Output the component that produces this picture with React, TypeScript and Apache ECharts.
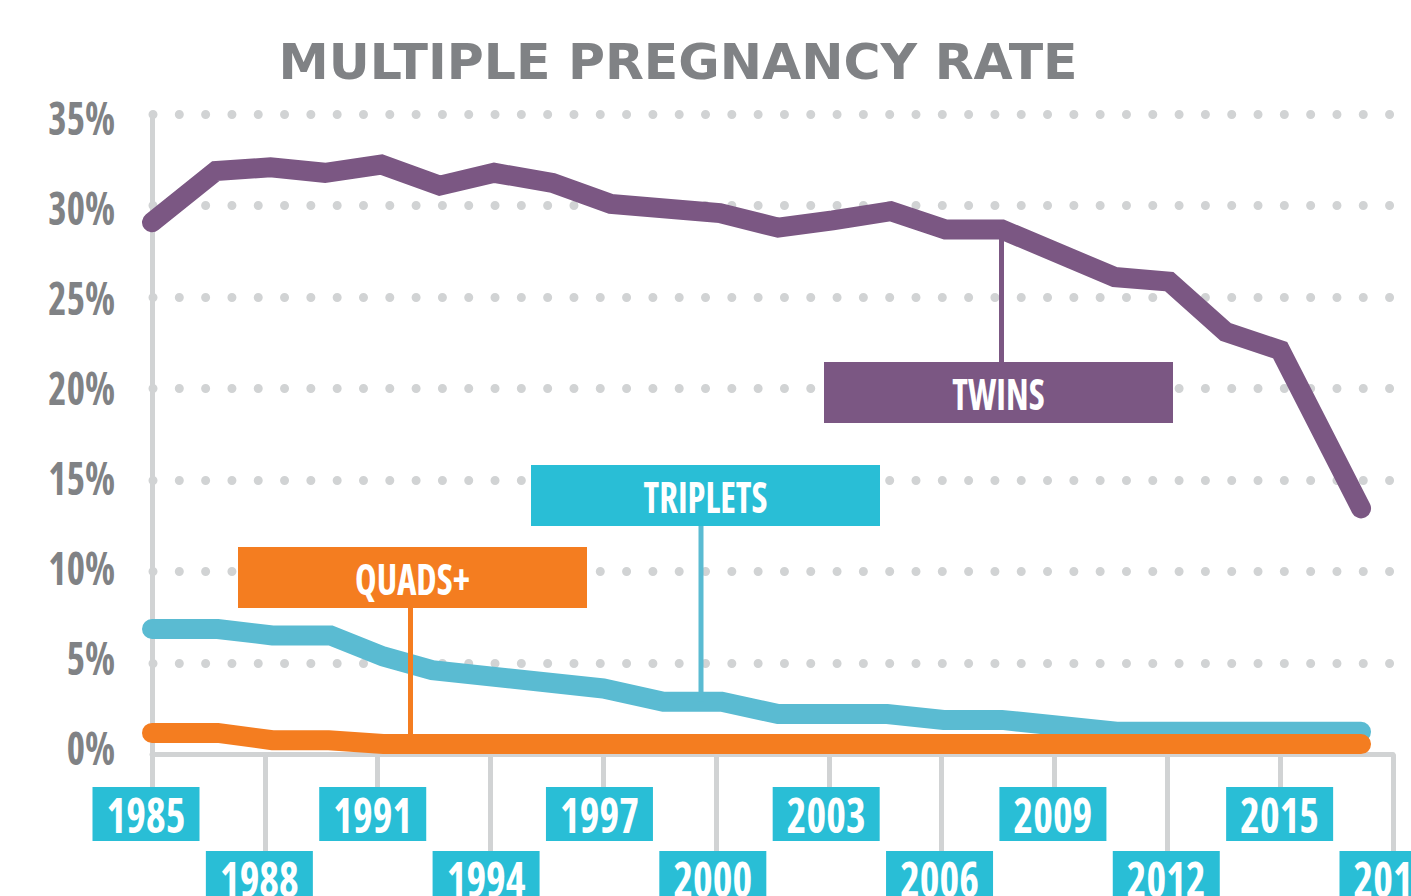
import React, { useEffect, useRef } from "react";
import * as echarts from "echarts";

const TITLE = "MULTIPLE PREGNANCY RATE";

// x positions in years, y values in percent
const twinsYears = [1985.0, 1986.7, 1988.15, 1989.6, 1991.1, 1992.65, 1994.1, 1995.65, 1997.2, 2000.1, 2001.65, 2003.1, 2004.65, 2006.1, 2007.6, 2010.6, 2012.05, 2013.55, 2015.0, 2017.15];
const twinsRate = [29.1, 31.9, 32.1, 31.8, 32.25, 31.1, 31.8, 31.25, 30.1, 29.6, 28.8, 29.2, 29.7, 28.7, 28.7, 26.1, 25.85, 23.1, 22.1, 13.45];

const tripletsYears = [1985.0, 1986.75, 1988.2, 1989.75, 1991.15, 1992.45, 1997.0, 1998.6, 2000.15, 2001.65, 2004.55, 2006.05, 2007.6, 2010.65, 2017.15];
const tripletsRate = [6.85, 6.85, 6.5, 6.5, 5.35, 4.6, 3.6, 2.87, 2.87, 2.2, 2.2, 1.88, 1.88, 1.23, 1.23];

const quadsYears = [1985.0, 1986.75, 1988.2, 1989.7, 1991.15, 2017.15];
const quadsRate = [1.17, 1.17, 0.77, 0.77, 0.56, 0.56];

const yTicks = [0, 5, 10, 15, 20, 25, 30, 35];
const topYearLabels = [1985, 1991, 1997, 2003, 2009, 2015];
const bottomYearLabels = [1988, 1994, 2000, 2006, 2012, 2018];

const PURPLE = "#7B5783";
const CYAN_LINE = "#5ABBD2";
const CYAN_BOX = "#29BED6";
const ORANGE = "#F47D20";
const GRAY = "#D1D3D4";
const TEXT_GRAY = "#808285";
const COND = "'Open Sans', sans-serif";

export default function App() {
  const ref = useRef<HTMLDivElement>(null);
  useEffect(() => {
    if (!ref.current) return;
    const chart = echarts.init(ref.current, null, { renderer: "svg" });
    const mk = (xs: number[], ys: number[]) => xs.map((x, i) => [x, ys[i]]);
    chart.setOption({
      animation: false,
      backgroundColor: "#ffffff",
      title: {
        text: TITLE,
        left: 673,
        top: 31,
        textAlign: "center",
        textStyle: {
          fontFamily: "'DejaVu Sans', sans-serif",
          fontWeight: "bold",
          fontSize: 50.5,
          color: TEXT_GRAY,
        },
      },
      grid: { left: 152, top: 114.3, width: 1241, height: 640, containLabel: false, outerBoundsMode: "none" },
      xAxis: [
        {
          type: "value",
          min: 1985,
          max: 2018,
          position: "bottom",
          axisLine: { show: true, onZero: false, lineStyle: { color: GRAY, width: 5, cap: "round" } },
          axisTick: { show: true, customValues: topYearLabels, length: 33, inside: false, lineStyle: { color: GRAY, width: 5 } },
          axisLabel: { show: false },
          splitLine: { show: false },
        },
        {
          type: "value",
          min: 1985,
          max: 2018,
          position: "bottom",
          axisLine: { show: false },
          axisTick: { show: true, customValues: bottomYearLabels, length: 97, inside: false, lineStyle: { color: GRAY, width: 5 } },
          axisLabel: { show: false },
          splitLine: { show: false },
        },
      ],
      yAxis: {
        type: "value",
        min: 0,
        max: 35,
        interval: 5,
        axisLine: { show: true, lineStyle: { color: GRAY, width: 5, cap: "round" } },
        axisTick: { show: false },
        axisLabel: { show: false },
        splitLine: {
          show: true,
          showMinLine: false,
          lineStyle: { color: GRAY, width: 9, type: [0.01, 26.3], cap: "round", dashOffset: -0.7 },
        },
      },
      series: [
        {
          name: "Triplets",
          type: "line",
          data: mk(tripletsYears, tripletsRate),
          symbol: "none",
          lineStyle: { color: CYAN_LINE, width: 20, cap: "round", join: "miter" },
          z: 3,
        },
        {
          name: "Quads+",
          type: "line",
          data: mk(quadsYears, quadsRate),
          symbol: "none",
          lineStyle: { color: ORANGE, width: 20, cap: "round", join: "miter" },
          z: 4,
        },
        {
          name: "Twins",
          type: "line",
          data: mk(twinsYears, twinsRate),
          symbol: "none",
          lineStyle: { color: PURPLE, width: 20, cap: "round", join: "miter" },
          z: 5,
        },
      ],
    });

    const px = (x: number, y: number) => chart.convertToPixel({ gridIndex: 0 }, [x, y]) as number[];
    const twinsAnchor = px(twinsYears[14], twinsRate[14]);
    const tripAnchor = px(tripletsYears[7], tripletsRate[7]);
    const quadAnchor = px(quadsYears[4], quadsRate[4]);

    const condText = (x: number, y: number, text: string, size: number, fill: string, align: string, sy: number) => ({
      type: "text",
      x,
      y,
      scaleY: sy,
      style: {
        text,
        fill,
        font: `bold condensed ${size}px ${COND}`,
        textAlign: align,
        textVerticalAlign: "middle",
      },
      z: 21,
    });

    const box = (x: number, y: number, w: number, h: number, fill: string, label: string) => [
      { type: "rect", shape: { x, y, width: w, height: h }, style: { fill }, z: 20 },
      condText(x + w / 2, y + h / 2 + 1, label, 36.5, "#ffffff", "center", 1.15),
    ];
    const leader = (x: number, y1: number, y2: number, color: string) => ({
      type: "line",
      shape: { x1: x, y1, x2: x, y2 },
      style: { stroke: color, lineWidth: 5 },
      z: 19,
    });

    const yearBoxes: any[] = [];
    const addYears = (years: number[], top: number) => {
      years.forEach((yr) => {
        const cx = px(yr, 0)[0] - (6 * (2018 - yr)) / 33;
        yearBoxes.push({ type: "rect", shape: { x: cx - 53.5, y: top, width: 107, height: 54 }, style: { fill: CYAN_BOX }, z: 20 });
        yearBoxes.push(condText(cx, top + 27, String(yr), 42, "#ffffff", "center", 1.15));
      });
    };
    addYears(topYearLabels, 787);
    addYears(bottomYearLabels, 851);

    const yLabels = yTicks.map((v) => condText(115, px(1985, v)[1] - 7.7 + 0.29 * v, `${v}%`, 39, TEXT_GRAY, "right", 1.2));

    chart.setOption({
      graphic: [
        leader(1001.5, twinsAnchor[1], 362, PURPLE),
        leader(701, 526, tripAnchor[1], CYAN_LINE),
        leader(410.5, 608, quadAnchor[1], ORANGE),
        ...box(824, 362, 349, 61, PURPLE, "TWINS"),
        ...box(531, 465, 349, 61, CYAN_BOX, "TRIPLETS"),
        ...box(238, 547, 349, 61, ORANGE, "QUADS+"),
        ...yearBoxes,
        ...yLabels,
      ],
    });

    return () => chart.dispose();
  }, []);
  return (
    <div
      ref={ref}
      style={{ position: "fixed", left: 0, top: 0, width: 1411, height: 896, background: "#fff" }}
    />
  );
}
